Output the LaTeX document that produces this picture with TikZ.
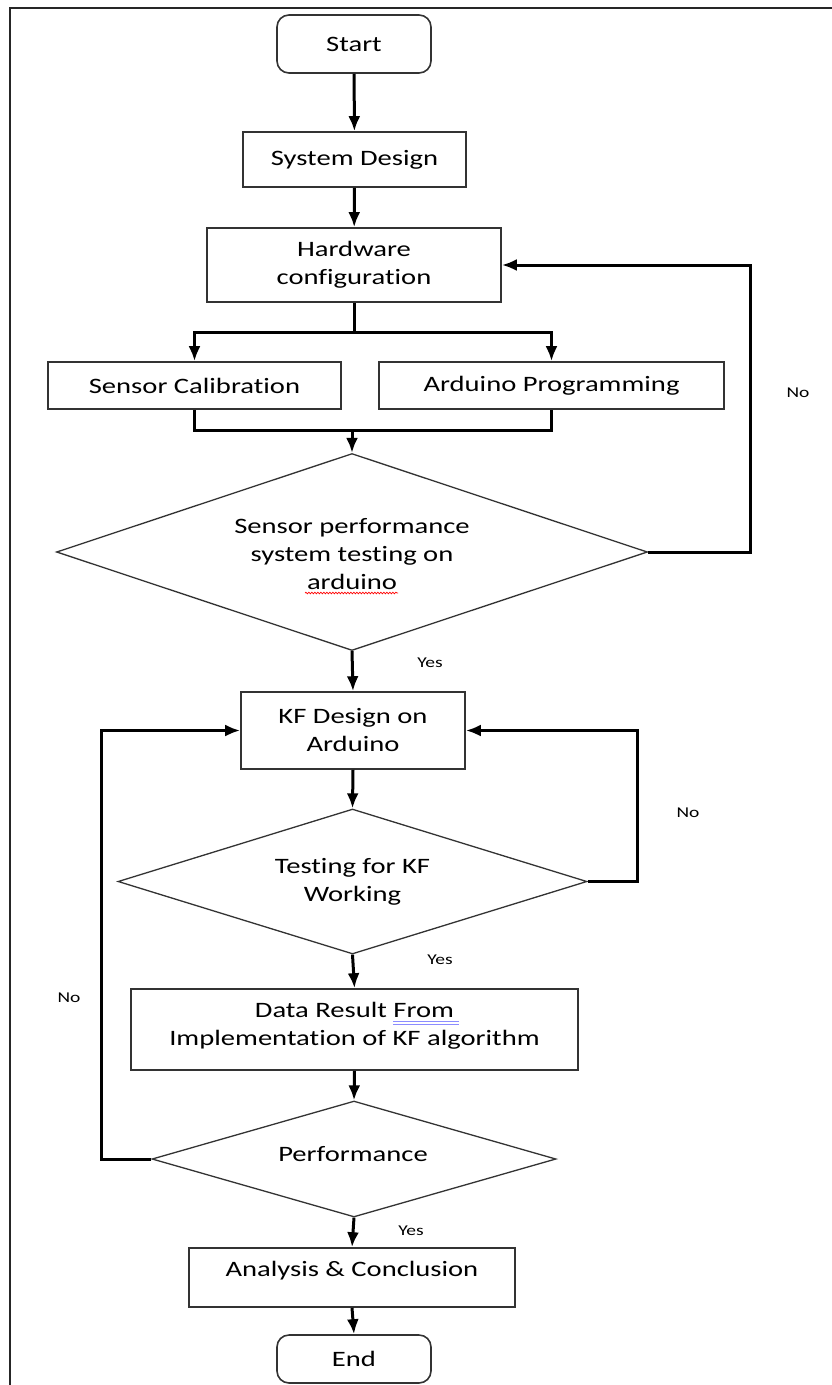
\documentclass[tikz,border=0pt]{standalone}
\usepackage{fontspec}
\setmainfont{Carlito}[FakeStretch=1.3,Ligatures={NoCommon}]
\usetikzlibrary{arrows.meta,shapes.geometric,decorations.pathmorphing}
\begin{document}
\begin{tikzpicture}[x=1pt,y=-1pt,
  box/.style={draw=black!80,line width=1.6pt,inner sep=0pt,align=center,font=\fontsize{22}{28}\selectfont},
  term/.style={box,rounded corners=12pt},
  dia/.style={draw=black!80,line width=1.3pt,shape=diamond,inner sep=0pt},
  txt/.style={inner sep=0pt,align=center,font=\fontsize{22}{28}\selectfont},
  lbl/.style={inner sep=0pt,font=\fontsize{15}{18}\selectfont},
  conn/.style={line width=3pt,-{Latex[length=15pt,width=12pt]}},
  wire/.style={line width=3pt}]
\useasboundingbox (0,0) rectangle (832,1385);
\fill[white] (0,0) rectangle (832,1385);
% frame
\draw[line width=2.5pt,black!85] (10,1385) -- (10,8) -- (832,8);

% nodes
\node[term,minimum width=154pt,minimum height=58pt] (start) at (354,44) {Start};
\node[box,minimum width=223pt,minimum height=55pt] (sysd) at (354.5,159.5) {System Design};
\node[box,minimum width=294pt,minimum height=74pt] (hw) at (354,265) {Hardware\\configuration};
\node[box,minimum width=293pt,minimum height=47pt] (cal) at (194.5,385.5) {Sensor Calibration};
\node[box,minimum width=345pt,minimum height=47pt] (ard) at (551.5,385.5) {Arduino Programming};
\node[dia,minimum width=591pt,minimum height=197pt] (d1) at (352,552) {};
\node[txt] (d1t) at (352,554) {Sensor performance\\system testing on\\arduino};
\node[box,minimum width=224pt,minimum height=77pt] (kf) at (353,730.5) {KF Design on\\Arduino};
\node[dia,minimum width=469pt,minimum height=145pt] (d2) at (352.5,881.5) {};
\node[txt] (d2t) at (352.5,882) {Testing for KF\\Working};
\node[box,minimum width=447pt,minimum height=81pt] (data) at (354.5,1029.5) {};
\node[txt] (datat) at (354.5,1026) {Data Result From\\Implementation of KF algorithm};
\node[dia,minimum width=404pt,minimum height=116pt] (d3) at (354,1159) {};
\node[txt] (d3t) at (353,1154) {Performance};
\node[box,minimum width=326pt,minimum height=59pt] (ana) at (352,1277.5) {};
\node[txt] (anat) at (352,1271) {Analysis \& Conclusion};
\node[term,minimum width=154pt,minimum height=48pt] (end) at (354,1359) {End};

% labels
\node[lbl] (no1) at (798,393) {No};
\node[lbl] (yes1) at (430,663) {Yes};
\node[lbl] (no2) at (688,813) {No};
\node[lbl] (yes2) at (440,960) {Yes};
\node[lbl] (no3) at (69,998) {No};
\node[lbl] (yes3) at (411,1231) {Yes};

% connectors
\draw[conn] (start) -- (sysd);
\draw[conn] (sysd) -- (hw);
\draw[wire] (hw.south) -- ++(0,30) coordinate (sp);
\draw[conn] (sp) -| (cal.north);
\draw[conn] (sp) -| (ard.north);
\draw[wire] (cal.south) -- ++(0,21) coordinate (mL) -| (ard.south);
\draw[conn] (mL -| d1.north) -- (d1.north);
\draw[conn] (d1.east) -- ++(102,0) |- (hw.east);
\draw[conn] (d1.south) -- (kf.north);
\draw[conn] (kf.south) -- (d2.north);
\draw[conn] (d2.east) -- ++(50,0) |- (kf.east);
\draw[conn] (d2.south) -- (data.north);
\draw[conn] (data.south) -- (d3.north);
\draw[conn] (d3.west) -- ++(-50,0) |- (kf.west);
\draw[conn] (d3.south) -- (ana.north);
\draw[conn] (ana.south) -- (end.north);

% proofing marks
\draw[red,line width=0.7pt,decorate,decoration={snake,amplitude=0.8pt,segment length=3pt}] (305,593) -- (398,593);
\draw[blue!45,line width=0.8pt] (393,1021) -- (459,1021) (393,1024) -- (459,1024);
\end{tikzpicture}
\end{document}
